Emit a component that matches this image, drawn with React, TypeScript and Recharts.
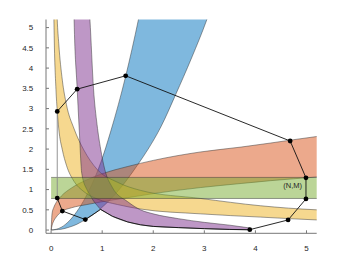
import { ComposedChart, Area, Line, Scatter, XAxis, YAxis, ReferenceDot } from 'recharts';

const X_TICKS = [0, 1, 2, 3, 4, 5];
const Y_TICKS = [0, 0.5, 1, 1.5, 2, 2.5, 3, 3.5, 4, 4.5, 5];

// blue band (left edge = hi, right edge = lo)
const BLUE_X = [0, 0.1, 0.2, 0.35, 0.5, 0.67, 0.8, 0.97, 1.17, 1.46, 1.71, 1.9, 2.15, 2.44, 2.75, 3.05, 3.2];
const BLUE_LO = [0, 0.01, 0.02, 0.07, 0.14, 0.26, 0.36, 0.53, 0.77, 1.2, 1.64, 2.0, 2.55, 3.35, 4.25, 5.2, 5.75];
const BLUE_HI = [0, 0.02, 0.07, 0.22, 0.45, 0.8, 1.13, 1.66, 2.45, 3.8, 5.2, 6.4, 8.2, 10.6, 13.5, 16.6, 18.2];

// orange band
const ORANGE_X = [0, 0.02, 0.05, 0.1, 0.2, 0.4, 0.7, 1.0, 1.5, 2.0, 2.93, 3.72, 4.3, 5.2, 5.4];
const ORANGE_LO = [0, 0.12, 0.22, 0.32, 0.45, 0.55, 0.63, 0.7, 0.8, 0.9, 1.05, 1.15, 1.22, 1.31, 1.33];
const ORANGE_HI = [0, 0.42, 0.55, 0.68, 0.84, 1.04, 1.24, 1.39, 1.57, 1.72, 1.93, 2.05, 2.15, 2.31, 2.34];

// yellow band
const YELLOW_X = [0.045, 0.055, 0.095, 0.12, 0.15, 0.22, 0.3, 0.45, 0.64, 0.9, 1.3, 1.75, 2.93, 4.1, 5.2, 5.4];
const YELLOW_LO = [6.3, 5.2, 3.47, 2.95, 2.5, 1.98, 1.6, 1.2, 0.95, 0.77, 0.63, 0.52, 0.4, 0.32, 0.25, 0.24];
const YELLOW_HI = [9.5, 8.2, 6.2, 5.2, 4.6, 3.7, 3.1, 2.5, 1.98, 1.5, 1.18, 0.98, 0.78, 0.6, 0.5, 0.49];

// purple band
const PURPLE_X = [0.43, 0.45, 0.51, 0.55, 0.6, 0.7, 0.76, 0.83, 0.9, 0.97, 1.05, 1.2, 1.5, 1.75, 2.0, 2.5, 3.0, 3.5, 3.9];
const PURPLE_LO = [6.5, 5.2, 3.5, 2.5, 1.4, 1.0, 0.87, 0.72, 0.61, 0.51, 0.45, 0.34, 0.2, 0.13, 0.09, 0.06, 0.035, 0.015, 0];
const PURPLE_HI = [12, 11.5, 10, 9, 8, 6.3, 5.2, 3.5, 2.6, 2.0, 1.5, 1.05, 0.7, 0.5, 0.4, 0.28, 0.19, 0.12, 0.05];

// green band
const GREEN_X = [0, 5.4];
const GREEN_LO = [0.78, 0.78];
const GREEN_HI = [1.3, 1.3];

// polygon outline
const POLY_X = [0.12, 0.51, 1.46, 4.68, 4.99, 4.99, 4.64, 3.89, 3.5, 3.0, 2.5, 2.0, 1.75, 1.5, 1.2, 0.97, 0.67, 0.22, 0.12];
const POLY_Y = [2.93, 3.48, 3.81, 2.2, 1.29, 0.77, 0.25, 0.01, 0.015, 0.035, 0.06, 0.09, 0.13, 0.2, 0.34, 0.51, 0.26, 0.47, 0.79];
const SIDE_X = [0.12, 0.12];
const SIDE_Y = [0.79, 2.93];

const VERT_X = [0.12, 0.51, 1.46, 4.68, 4.99, 4.99, 4.64, 3.89, 0.67, 0.22, 0.12];
const VERT_Y = [2.93, 3.48, 3.81, 2.2, 1.29, 0.77, 0.25, 0.01, 0.26, 0.47, 0.79];

const NM_LABEL = '(N,M)';
const NM_X = 4.73;
const NM_Y = 1.11;

const band = (xs: number[], lo: number[], hi: number[]) => xs.map((x, i) => ({ x, lo: lo[i], hi: hi[i] }));
const pts = (xs: number[], ys: number[]) => xs.map((x, i) => ({ x, y: ys[i] }));

const tickStyle = { fontSize: 8, fill: '#262626', fontFamily: 'Liberation Sans, Arial, sans-serif' };
const range = (d: any) => [d.lo, d.hi];
const edge = { stroke: '#333', strokeWidth: 0.6, strokeOpacity: 0.8 };

export default function App() {
  return (
    <div style={{ width: 342, height: 255 }}>
      <ComposedChart width={342} height={255} margin={{ top: 11.5, right: 33.3, left: 8, bottom: 9.7 }}>
        <XAxis dataKey="x" type="number" domain={[-0.1, 5.2]} allowDataOverflow ticks={X_TICKS}
          tick={tickStyle} tickSize={-3} tickMargin={15} height={20} stroke="#777" />
        <XAxis xAxisId="top" orientation="top" dataKey="x" type="number" domain={[-0.1, 5.2]} allowDataOverflow
          ticks={X_TICKS} tick={false} tickSize={-3} height={0} stroke="#777" />
        <YAxis type="number" domain={[-0.08, 5.2]} allowDataOverflow ticks={Y_TICKS}
          tick={tickStyle} tickSize={-3} tickMargin={15.7} width={30} stroke="#777" />
        <YAxis yAxisId="right" orientation="right" type="number" domain={[-0.08, 5.2]} allowDataOverflow
          ticks={Y_TICKS} tick={false} tickSize={-3} width={0} stroke="#777" />

        <Area data={band(BLUE_X, BLUE_LO, BLUE_HI)} dataKey={range} type="monotone" fill="#0072BD" fillOpacity={0.5} {...edge} isAnimationActive={false} />
        <Area data={band(ORANGE_X, ORANGE_LO, ORANGE_HI)} dataKey={range} type="monotone" fill="#D95319" fillOpacity={0.5} {...edge} isAnimationActive={false} />
        <Area data={band(YELLOW_X, YELLOW_LO, YELLOW_HI)} dataKey={range} type="monotone" fill="#EDB120" fillOpacity={0.5} {...edge} isAnimationActive={false} />
        <Area data={band(PURPLE_X, PURPLE_LO, PURPLE_HI)} dataKey={range} type="monotone" fill="#7E2F8E" fillOpacity={0.5} {...edge} isAnimationActive={false} />
        <Area data={band(GREEN_X, GREEN_LO, GREEN_HI)} dataKey={range} type="linear" fill="#77AC30" fillOpacity={0.5} {...edge} isAnimationActive={false} />

        <Line data={pts(SIDE_X, SIDE_Y)} dataKey="y" type="linear" stroke="#888" strokeWidth={0.9} dot={false} isAnimationActive={false} />
        <Line data={pts(POLY_X, POLY_Y)} dataKey="y" type="linear" stroke="#111" strokeWidth={0.9} dot={false} isAnimationActive={false} />
        <Scatter data={pts(VERT_X, VERT_Y)} dataKey="y" isAnimationActive={false}
          shape={(p: any) => <circle cx={p.cx} cy={p.cy} r={2.4} fill="#000" />} />
        <ReferenceDot x={NM_X} y={NM_Y} r={0} fill="none" stroke="none"
          label={{ value: NM_LABEL, position: 'center', fontSize: 7.5, fill: '#262626', fontFamily: 'Liberation Sans, Arial, sans-serif' }} />
      </ComposedChart>
    </div>
  );
}
